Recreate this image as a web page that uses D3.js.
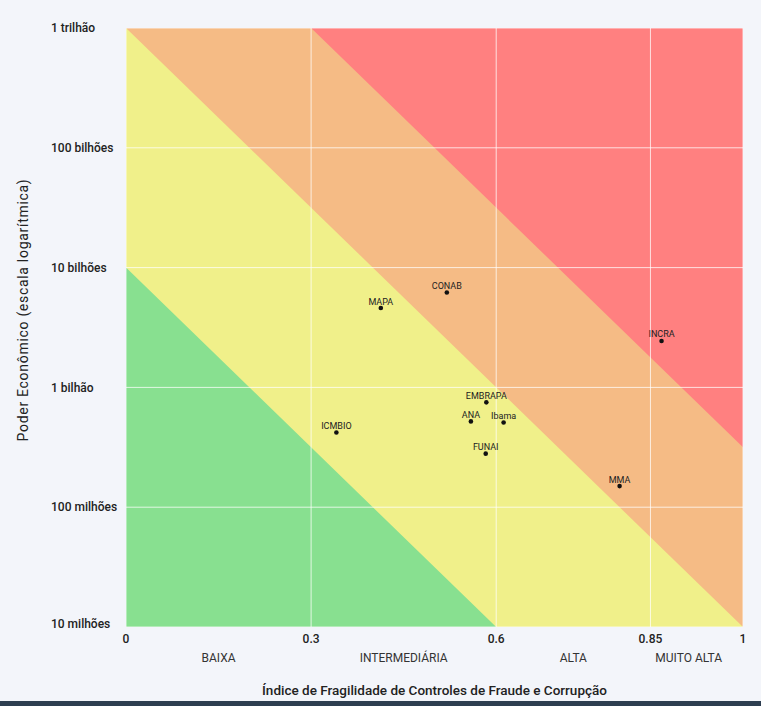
<!DOCTYPE html>
<html><head><meta charset="utf-8">
<script src="https://cdn.jsdelivr.net/npm/d3@7"></script>
<style>
html,body{margin:0;padding:0;background:#f3f5fa;}
svg{display:block;font-family:Roboto,sans-serif;}
</style></head>
<body><svg id="chart" width="761" height="706"></svg>
<script>
// ---- data ----
const orgs = ["CONAB","MAPA","INCRA","EMBRAPA","ANA","Ibama","ICMBIO","FUNAI","MMA"];
const fragility = [0.520,0.413,0.868,0.584,0.559,0.612,0.341,0.583,0.800];
const power = [6.2e9,4.6e9,2.44e9,7.5e8,5.2e8,5.1e8,4.2e8,2.8e8,1.5e8];

const yTickValues = [1e7,1e8,1e9,1e10,1e11,1e12];
const yTickLabels = ["10 milhões","100 milhões","1 bilhão","10 bilhões","100 bilhões","1 trilhão"];
const xTickValues = [0,0.3,0.6,0.85,1];
const xTickLabels = ["0","0.3","0.6","0.85","1"];
const zoneNames = ["BAIXA","INTERMEDIÁRIA","ALTA","MUITO ALTA"];
const zoneLabelAt = [0.15,0.45,0.725,0.912];
const zoneColors = ["#88e090","#f0f08a","#f5bb85","#ff8080"];
// zone upper boundaries: log10(power) = intercept - slope * fragility
const zoneIntercepts = [10,12,13.5];
const zoneSlope = 5;

// ---- layout ----
const svg = d3.select("#chart");
const L=126, R=743, T=28, B=627;
const x = d3.scaleLinear().domain([0,1]).range([L,R]);
const y = d3.scaleLog().domain([1e7,1e12]).range([B,T]);

svg.append("defs").append("clipPath").attr("id","plotclip")
  .append("rect").attr("x",L).attr("y",T).attr("width",R-L).attr("height",B-T);

const g = svg.append("g").attr("clip-path","url(#plotclip)");
// top zone background
g.append("rect").attr("x",L).attr("y",T).attr("width",R-L).attr("height",B-T).attr("fill",zoneColors[3]);
// lower zones, drawn from highest to lowest
for(let i=zoneIntercepts.length-1;i>=0;i--){
  const c = zoneIntercepts[i];
  const xs=[-0.5,1.5];
  const pts = xs.map(v=>[x(v), y(Math.pow(10,c-zoneSlope*v))]);
  pts.push([x(1.5), B+50],[x(-0.5), B+50]);
  g.append("path").attr("d", d3.line()(pts)+"Z").attr("fill",zoneColors[i]);
}
// grid
g.selectAll("line.hg").data(yTickValues).join("line")
  .attr("x1",L).attr("x2",R).attr("y1",d=>y(d)).attr("y2",d=>y(d))
  .attr("stroke","#fff").attr("stroke-opacity",0.75).attr("stroke-width",1);
g.selectAll("line.vg").data(xTickValues).join("line")
  .attr("y1",T).attr("y2",B).attr("x1",d=>x(d)).attr("x2",d=>x(d))
  .attr("stroke","#fff").attr("stroke-opacity",0.75).attr("stroke-width",1);

// points
const pts = orgs.map((n,i)=>({n, fx:fragility[i], p:power[i]}));
const pg = svg.append("g");
pg.selectAll("circle").data(pts).join("circle")
  .attr("cx",d=>x(d.fx)).attr("cy",d=>y(d.p)).attr("r",2.3).attr("fill","#111");
pg.selectAll("text").data(pts).join("text")
  .attr("x",d=>x(d.fx)).attr("y",d=>y(d.p)-3.5)
  .attr("text-anchor","middle").attr("font-size",9).attr("fill","#222").text(d=>d.n);

// y axis labels
svg.append("g").selectAll("text").data(yTickValues).join("text")
  .attr("x",51).attr("y",(d,i)=> i===0 ? y(d)-3 : y(d))
  .attr("dy","0.35em").attr("font-size",12).attr("font-weight",500).attr("fill","#222")
  .text((d,i)=>yTickLabels[i]);
// x axis labels
svg.append("g").selectAll("text").data(xTickValues).join("text")
  .attr("x",d=>x(d)).attr("y",639).attr("dy","0.35em").attr("text-anchor","middle")
  .attr("font-size",12).attr("font-weight",500).attr("fill","#222")
  .text((d,i)=>xTickLabels[i]);
svg.append("g").selectAll("text").data(zoneNames).join("text")
  .attr("x",(d,i)=>x(zoneLabelAt[i])).attr("y",658).attr("dy","0.35em").attr("text-anchor","middle")
  .attr("font-size",12).attr("fill","#333").text(d=>d);
// titles
svg.append("text").attr("x",(L+R)/2).attr("y",690).attr("dy","0.35em").attr("text-anchor","middle")
  .attr("font-size",13.5).attr("font-weight",500).attr("fill","#222")
  .text("Índice de Fragilidade de Controles de Fraude e Corrupção");
svg.append("text").attr("transform","translate(23,310) rotate(-90)").attr("dy","0.35em")
  .attr("text-anchor","middle").attr("font-size",14).attr("font-weight",400).attr("letter-spacing",0.7)
  .attr("fill","#222").text("Poder Econômico (escala logarítmica)");
// bottom band
svg.append("rect").attr("x",0).attr("y",701).attr("width",761).attr("height",5).attr("fill","#2d3e50");
</script></body></html>
